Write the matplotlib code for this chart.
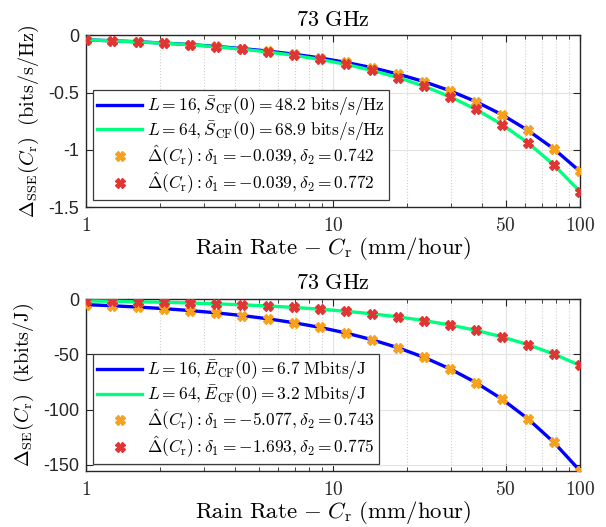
import numpy as np
import matplotlib
matplotlib.use('Agg')
import matplotlib.pyplot as plt
from matplotlib.ticker import FixedLocator, NullFormatter

plt.rcParams['mathtext.fontset'] = 'cm'
plt.rcParams['font.family'] = 'serif'
plt.rcParams['font.serif'] = ['cmr10', 'DejaVu Serif']
plt.rcParams['axes.formatter.use_mathtext'] = True

# rain rate samples (mm/hour), 20 log-spaced points
rain = [1.0, 1.274, 1.624, 2.069, 2.637, 3.360, 4.281, 5.456, 6.952, 8.859,
        11.29, 14.38, 18.33, 23.36, 29.76, 37.93, 48.33, 61.58, 78.48, 100.0]

# spectral efficiency loss (bits/s/Hz)
sse_L16 = [-0.039, -0.047, -0.056, -0.067, -0.080, -0.096, -0.115, -0.137, -0.164, -0.197,
           -0.236, -0.282, -0.338, -0.404, -0.484, -0.579, -0.693, -0.830, -0.993, -1.189]
sse_L64 = [-0.039, -0.047, -0.057, -0.068, -0.082, -0.099, -0.120, -0.145, -0.174, -0.210,
           -0.253, -0.306, -0.368, -0.444, -0.536, -0.646, -0.779, -0.939, -1.133, -1.366]

# energy efficiency loss (kbits/J)
se_L16 = [-5.08, -6.08, -7.28, -8.71, -10.43, -12.49, -14.96, -17.91, -21.44, -25.67,
          -30.74, -36.80, -44.06, -52.76, -63.17, -75.63, -90.55, -108.42, -129.81, -155.43]
se_L64 = [-1.69, -2.04, -2.47, -2.97, -3.59, -4.33, -5.23, -6.31, -7.61, -9.18,
          -11.08, -13.37, -16.14, -19.47, -23.50, -28.35, -34.21, -41.28, -49.82, -60.11]

top_labels = [r'$L = 16, \bar{S}_{\rm CF}(0) = 48.2\ \mathrm{bits/s/Hz}$',
              r'$L = 64, \bar{S}_{\rm CF}(0) = 68.9\ \mathrm{bits/s/Hz}$',
              r'$\hat{\Delta}(C_{\rm r}) : \delta_1 = -0.039, \delta_2 = 0.742$',
              r'$\hat{\Delta}(C_{\rm r}) : \delta_1 = -0.039, \delta_2 = 0.772$']
bot_labels = [r'$L = 16, \bar{E}_{\rm CF}(0) = 6.7\ \mathrm{Mbits/J}$',
              r'$L = 64, \bar{E}_{\rm CF}(0) = 3.2\ \mathrm{Mbits/J}$',
              r'$\hat{\Delta}(C_{\rm r}) : \delta_1 = -5.077, \delta_2 = 0.743$',
              r'$\hat{\Delta}(C_{\rm r}) : \delta_1 = -1.693, \delta_2 = 0.775$']

BLUE = '#0000ff'
GREEN = '#00ff80'
ORANGE = '#f7a11c'
RED = '#e03535'
AXC = '#262626'

fig = plt.figure(figsize=(6.06, 5.27), dpi=100)
ax1 = fig.add_axes([0.1419, 0.6072, 0.8152, 0.3256])
ax2 = fig.add_axes([0.1419, 0.1063, 0.8152, 0.3263])


def draw(ax, y16, y64, labels, yticks, ylim, ylabel, leg_anchor):
    ax.plot(rain, y16, color=BLUE, lw=2.4, label=labels[0], zorder=3)
    ax.plot(rain, y64, color=GREEN, lw=2.4, label=labels[1], zorder=3)
    ax.plot(rain, y16, ls='none', marker='X', ms=6.5, color=ORANGE, mec=ORANGE, label=labels[2], zorder=4)
    ax.plot(rain, y64, ls='none', marker='X', ms=6.5, color=RED, mec=RED, label=labels[3], zorder=5)
    ax.set_xscale('log')
    ax.set_xlim(1, 100)
    ax.set_ylim(*ylim)
    ax.xaxis.set_major_locator(FixedLocator([1, 10, 50, 100]))
    ax.set_xticklabels([r'$1$', r'$10$', r'$50$', r'$100$'])
    ax.xaxis.set_minor_locator(FixedLocator([2, 3, 4, 5, 6, 7, 8, 9, 20, 30, 40, 60, 70, 80, 90]))
    ax.xaxis.set_minor_formatter(NullFormatter())
    ax.set_yticks(yticks)
    ax.set_yticklabels([('%g' % t) for t in yticks], family='Liberation Sans', fontsize=13)
    for lab in ax.get_xticklabels():
        lab.set_fontsize(14)
    ax.tick_params(which='both', direction='in', top=True, right=True, colors=AXC)
    ax.tick_params(which='major', length=5, width=0.8)
    ax.tick_params(which='minor', length=3, width=0.6)
    ax.tick_params(axis='x', pad=7)
    ax.tick_params(axis='y', pad=5)
    ax.grid(True, which='major', color='#e3e3e3', lw=0.8, zorder=0)
    ax.grid(True, which='minor', axis='x', color='#d0d0d0', lw=0.8, ls=':', zorder=0)
    for s in ax.spines.values():
        s.set_color(AXC)
        s.set_linewidth(1.0)
    ax.set_title(r'$\mathrm{73\ GHz}$', fontsize=16, pad=7, color='black')
    ax.set_xlabel(r'$\mathrm{Rain\ Rate}\ {-}\ C_{\rm r}\ \mathrm{(mm/hour)}$', fontsize=16.5, labelpad=0)
    ax.set_ylabel(ylabel, fontsize=14.5, labelpad=5)
    leg = ax.legend(loc='lower left', bbox_to_anchor=leg_anchor, borderaxespad=0,
                    fontsize=12.5, labelspacing=0.05, handlelength=2.6, handletextpad=0.25,
                    borderpad=0.25, fancybox=False, framealpha=1, edgecolor='#3a3a3a')
    leg.get_frame().set_linewidth(0.9)
    leg.set_zorder(10)


draw(ax1, sse_L16, sse_L64, top_labels, [-1.5, -1, -0.5, 0], (-1.5, 0),
     r'$\Delta_{\rm SSE}(C_{\rm r})\ \ \mathrm{(bits/s/Hz)}$', (0.0136, 0.041))
draw(ax2, se_L16, se_L64, bot_labels, [-150, -100, -50, 0], (-155.6, 0),
     r'$\Delta_{\rm SE}(C_{\rm r})\ \ \mathrm{(kbits/J)}$', (0.0136, 0.039))

fig.savefig('out.png', dpi=100)
